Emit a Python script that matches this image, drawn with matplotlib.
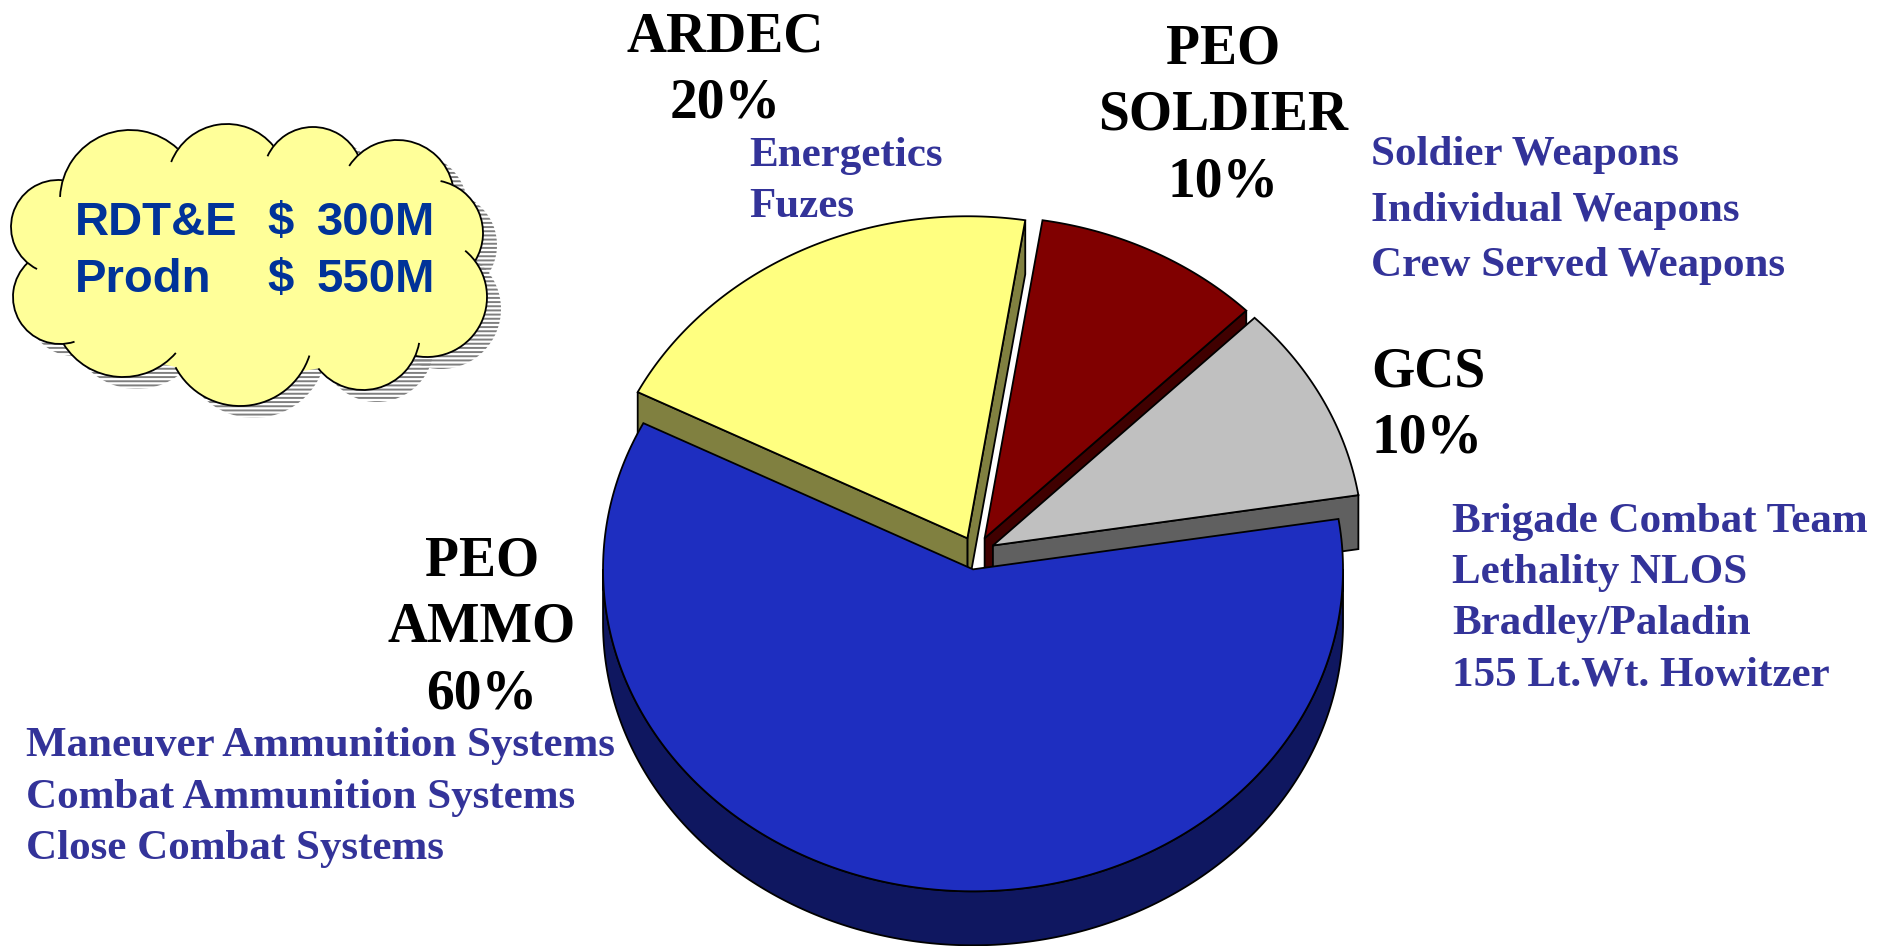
import numpy as np
import matplotlib
matplotlib.use('Agg')
import matplotlib.pyplot as plt
from matplotlib.colors import to_rgb
from matplotlib.patches import Polygon, Circle, Ellipse, Arc

W, H = 1889, 946

# slices, counter-clockwise from start_angle
names = ['GCS', 'PEO\nSOLDIER', 'ARDEC', 'PEO\nAMMO']
shares = [10, 10, 20, 60]
top_colors = ['#C0C0C0', '#800000', '#FFFF80', '#1E2EC0']
programs = [
    ['Brigade Combat Team', 'Lethality NLOS', 'Bradley/Paladin', '155 Lt.Wt. Howitzer'],
    ['Soldier Weapons', 'Individual Weapons', 'Crew Served Weapons'],
    ['Energetics', 'Fuzes'],
    ['Maneuver Ammunition Systems', 'Combat Ammunition Systems', 'Close Combat Systems'],
]
budget_names = ['RDT&E', 'Prodn']
budget_values = [300, 550]

# pie layout (pixels, y down)
cx, cy = 976, 553
rx, ry = 370, 322
depth = 54
explode = 19
start_angle = 9
lw = 1.3

plt.rcParams['hatch.linewidth'] = 1.4

fig = plt.figure(figsize=(W / 100, H / 100), dpi=100)
ax = fig.add_axes([0, 0, 1, 1])
ax.set_xlim(0, W)
ax.set_ylim(H, 0)
ax.axis('off')


def arc(px, py, t1, t2, dz=0, n=240):
    t = np.radians(np.linspace(t1, t2, n))
    return np.column_stack([px + rx * np.cos(t), py - ry * np.sin(t) + dz])


fracs = np.array(shares) / sum(shares)
edges = start_angle + 360 * np.concatenate([[0], np.cumsum(fracs)])

slices = []
for i in range(len(shares)):
    t1, t2 = edges[i], edges[i + 1]
    mid = np.radians((t1 + t2) / 2)
    px = cx + explode * np.cos(mid)
    py = cy - explode * ry / rx * np.sin(mid)
    slices.append((np.sin(mid), i, t1, t2, px, py))
# back slices first
slices.sort(key=lambda s: -s[0])

for _, i, t1, t2, px, py in slices:
    top = np.array(to_rgb(top_colors[i]))
    side = top * 0.5
    # outer wall, front half only
    for k in (-1, 0, 1):
        lo, hi = max(t1, 180 + 360 * k), min(t2, 360 + 360 * k)
        if hi > lo:
            wall = np.vstack([arc(px, py, lo, hi), arc(px, py, hi, lo, dz=depth)])
            ax.add_patch(Polygon(wall, fc=side, ec='k', lw=lw))
    # cut faces turned to the viewer
    for t, vis in ((t1, np.cos(np.radians(t1)) > 0), (t2, np.cos(np.radians(t2)) < 0)):
        if vis:
            ex = px + rx * np.cos(np.radians(t))
            ey = py - ry * np.sin(np.radians(t))
            face = [(px, py), (ex, ey), (ex, ey + depth), (px, py + depth)]
            ax.add_patch(Polygon(face, fc=side, ec='k', lw=lw))
    ax.add_patch(Polygon(np.vstack([[px, py], arc(px, py, t1, t2)]), fc=top, ec='k', lw=lw))

# labels
name_pos = [(1371, 386, 'left'), (1223, 63, 'center'), (725, 51, 'center'), (482, 575, 'center')]
prog_pos = [(1452, 532, 51), (1371, 165, 55.5), (749, 166, 51), (26, 756, 51.5)]
serif = dict(family='Liberation Serif', weight='bold')

for i in range(len(shares)):
    x, y, ha = name_pos[i]
    lines = names[i].split('\n') + ['%d%%' % shares[i]]
    for j, s in enumerate(lines):
        ax.text(x, y + 66.5 * j, s, ha=ha, va='baseline', fontsize=40, color='black', **serif)
    x, y, step = prog_pos[i]
    for j, s in enumerate(programs[i]):
        ax.text(x, y + step * j, s, ha='left', va='baseline', fontsize=31, color='#333399', **serif)

# cloud
bumps = [(58, 227, 47), (130, 200, 70), (227, 184, 60), (313, 177, 50), (397, 197, 57),
         (430, 233, 53), (427, 297, 60), (240, 333, 73), (123, 307, 70), (60, 297, 47),
         (363, 333, 57)]
core = (250, 265, 200, 110)
cloud_fc = '#FFFF99'
for x, y, r in bumps:
    ax.add_patch(Circle((x + 14, y + 12), r, fc='none', ec='#7F7F7F', lw=0, hatch='----'))
for x, y, r in bumps:
    ax.add_patch(Circle((x, y), r, fc=cloud_fc, ec='none'))
ax.add_patch(Ellipse(core[:2], 2 * core[2], 2 * core[3], fc=cloud_fc, ec='none'))

# outline: outer part of each bump, with a short tail running inside
phi = np.arange(0, 360, 0.5)
tail = 14
for i, (x, y, r) in enumerate(bumps):
    bx = x + r * np.cos(np.radians(phi))
    by = y + r * np.sin(np.radians(phi))
    out = ((bx - core[0]) / core[2]) ** 2 + ((by - core[1]) / core[3]) ** 2 > 1
    for j, (x2, y2, r2) in enumerate(bumps):
        if j != i:
            out &= np.hypot(bx - x2, by - y2) > r2
    if not out.any():
        continue
    k0 = np.argmin(out)
    rolled = np.roll(out, -k0)
    ang = np.roll(phi, -k0)
    s = None
    for k in range(len(rolled) + 1):
        on = rolled[k] if k < len(rolled) else False
        if on and s is None:
            s = k
        elif not on and s is not None:
            a1, a2 = ang[s], ang[k - 1]
            if a2 < a1:
                a2 += 360
            if a2 - a1 > 4:
                ax.add_patch(Arc((x, y), 2 * r, 2 * r, theta1=a1 - tail, theta2=a2,
                                 color='k', lw=lw))
            s = None

sans = dict(family='Liberation Sans', weight='bold', fontsize=34, color='#003399')
for j, (nm, val) in enumerate(zip(budget_names, budget_values)):
    y = 235 + 57 * j
    ax.text(75, y, nm, ha='left', va='baseline', **sans)
    ax.text(267, y, '$', ha='left', va='baseline', **sans)
    ax.text(435, y, '%dM' % val, ha='right', va='baseline', **sans)

fig.savefig('out.png', dpi=100)
